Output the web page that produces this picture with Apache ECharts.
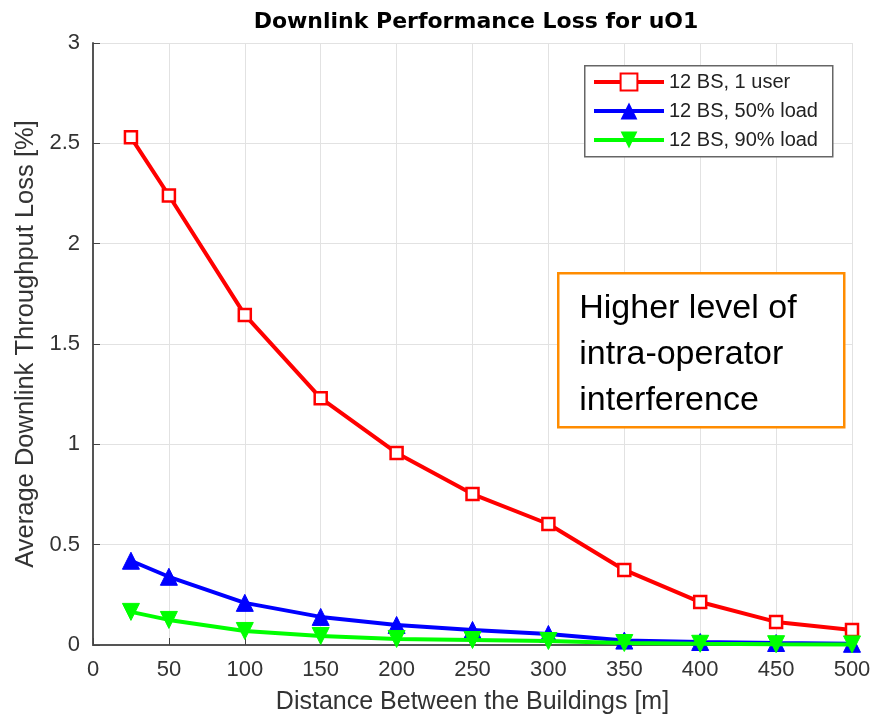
<!DOCTYPE html>
<html><head><meta charset="utf-8">
<script src="https://cdn.jsdelivr.net/npm/echarts@6/dist/echarts.min.js"></script>
<style>html,body{margin:0;padding:0;background:#fff}#c{width:874px;height:720px}</style>
</head><body><div id="c"></div>
<script>
const distances = [25, 50, 100, 150, 200, 250, 300, 350, 400, 450, 500];
const oneUser = [2.53, 2.24, 1.645, 1.23, 0.957, 0.752, 0.603, 0.374, 0.214, 0.115, 0.075];
const load50 = [0.42, 0.34, 0.21, 0.14, 0.10, 0.075, 0.055, 0.022, 0.015, 0.01, 0.006];
const load90 = [0.165, 0.125, 0.07, 0.045, 0.03, 0.025, 0.02, 0.01, 0.006, 0.004, 0.003];
const seriesNames = ['12 BS, 1 user', '12 BS, 50% load', '12 BS, 90% load'];
const titleText = 'Downlink Performance Loss for uO1';
const xLabel = 'Distance Between the Buildings [m]';
const yLabel = 'Average Downlink Throughput Loss [%]';
const noteLines = ['Higher level of', 'intra-operator', 'interference'];

const pair = arr => distances.map((d, i) => [d, arr[i]]);
const font = 'Liberation Sans, Arial, sans-serif';
const chart = echarts.init(document.getElementById('c'), null, {renderer: 'canvas'});
chart.setOption({
  animation: false,
  backgroundColor: '#fff',
  title: {text: titleText, left: 471, top: 6, textAlign: 'center',
    textStyle: {fontFamily: 'DejaVu Sans, sans-serif', fontSize: 22, fontWeight: 'bold', color: '#000'}},
  grid: {left: 93, right: 22, top: 43, bottom: 75, containLabel: false},
  legend: {
    data: seriesNames, orient: 'vertical', left: 584, top: 65, z: 60,
    itemWidth: 70, itemHeight: 21, itemGap: 9,
    padding: [7, 6, 6, 8],
    borderWidth: 0, backgroundColor: 'transparent',
    lineStyle: {width: 4},
    textStyle: {fontFamily: font, fontSize: 20, color: '#222'}
  },
  xAxis: {
    type: 'value', min: 0, max: 500, interval: 50,
    name: xLabel, nameLocation: 'middle', nameGap: 45,
    nameTextStyle: {fontFamily: font, fontSize: 25, color: '#333'},
    axisLine: {show: true, lineStyle: {color: '#555', width: 2}},
    axisTick: {show: true, inside: true, length: 7, lineStyle: {color: '#444'}},
    axisLabel: {fontFamily: font, fontSize: 22, color: '#333', margin: 14},
    splitLine: {show: true, lineStyle: {color: '#e2e2e2', width: 1}}
  },
  yAxis: {
    type: 'value', min: 0, max: 3, interval: 0.5,
    name: yLabel, nameLocation: 'middle', nameGap: 49, nameRotate: 90,
    nameTextStyle: {fontFamily: font, fontSize: 25.5, color: '#333'},
    axisLine: {show: true, lineStyle: {color: '#555', width: 2}},
    axisTick: {show: true, inside: true, length: 7, lineStyle: {color: '#444'}},
    axisLabel: {fontFamily: font, fontSize: 22, color: '#333', margin: 13},
    splitLine: {show: true, lineStyle: {color: '#e2e2e2', width: 1}}
  },
  series: [
    {name: seriesNames[0], type: 'line', data: pair(oneUser), color: '#ff0000',
      lineStyle: {width: 4, color: '#ff0000'}, symbol: 'rect', symbolSize: 12,
      itemStyle: {color: '#fff', borderColor: '#ff0000', borderWidth: 2.5}, z: 3},
    {name: seriesNames[1], type: 'line', data: pair(load50), color: '#0000ff',
      lineStyle: {width: 4, color: '#0000ff'}, symbol: 'triangle', symbolSize: 17,
      itemStyle: {color: '#0000ff', borderColor: '#0000ff'}, z: 2},
    {name: seriesNames[2], type: 'line', data: pair(load90), color: '#00ff00',
      lineStyle: {width: 4, color: '#00ff00'}, symbol: 'triangle', symbolRotate: 180, symbolSize: 17,
      itemStyle: {color: '#00ff00', borderColor: '#00ff00'}, z: 4}
  ],
  graphic: [
    {type: 'rect', left: 584, top: 65, z: 50, silent: true,
      shape: {x: 0, y: 0, width: 248, height: 91},
      style: {fill: '#fff', stroke: '#666', lineWidth: 1.5}},
    {type: 'group', left: 557, top: 272, z: 100,
      children: [
        {type: 'rect', z: 100, shape: {x: 0, y: 0, width: 286, height: 154},
          style: {fill: '#fff', stroke: '#ff8c00', lineWidth: 2.5}},
        {type: 'text', z: 101, left: 21, top: 12,
          style: {text: noteLines.join('\n'), font: '34px Liberation Sans, Arial, sans-serif',
            lineHeight: 46, fill: '#000'}}
      ]
    }
  ]
});
</script></body></html>
